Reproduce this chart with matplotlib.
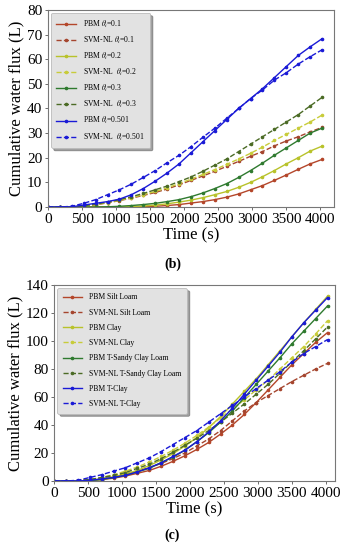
import matplotlib
matplotlib.use("Agg")
import matplotlib.pyplot as plt
import numpy as np

plt.rcParams['font.family'] = ['Liberation Serif', 'DejaVu Serif']
plt.rcParams['mathtext.fontset'] = 'stix'

t = [0, 175, 350, 525, 700, 875, 1050, 1225, 1400, 1575, 1750, 1925, 2100,
     2275, 2450, 2625, 2800, 2975, 3150, 3325, 3500, 3675, 3850, 4025]

# Panel (b)
pbm_01 = [0, 0, 0, 0, 0, 0, 0, 0, 0.1, 0.3, 0.6, 1.0, 1.6, 2.2, 3.0, 4.0, 5.3, 7.0, 8.7, 10.8, 13.0, 15.3, 17.5, 19.3]
svm_01 = [0, 0, 0, 0.3, 0.9, 1.7, 2.6, 3.6, 4.7, 5.9, 7.3, 9.0, 10.8, 12.6, 14.5, 16.5, 18.5, 20.6, 22.5, 24.8, 26.8, 28.5, 30.5, 32.3]
pbm_02 = [0, 0, 0, 0, 0, 0, 0.1, 0.2, 0.4, 0.8, 1.3, 2.0, 2.8, 3.8, 5.0, 6.3, 8.0, 10.0, 12.3, 14.8, 17.5, 20.0, 22.7, 24.7]
svm_02 = [0, 0, 0, 0.4, 1.0, 1.8, 2.7, 3.8, 5.0, 6.3, 7.8, 9.5, 11.3, 13.2, 15.2, 17.3, 19.5, 21.8, 24.3, 27.0, 29.5, 32.0, 34.5, 37.3]
pbm_03 = [0, 0, 0, 0, 0, 0.1, 0.3, 0.6, 1.0, 1.5, 2.2, 3.0, 4.2, 5.7, 7.5, 9.5, 12.0, 14.8, 17.8, 21.0, 24.0, 27.0, 30.0, 32.0]
svm_03 = [0, 0, 0, 0.5, 1.2, 2.0, 3.0, 4.2, 5.5, 7.0, 8.5, 10.3, 12.2, 14.5, 17.0, 19.5, 22.5, 25.5, 28.5, 31.5, 34.5, 37.5, 41.0, 44.5]
pbm_05 = [0, 0, 0.1, 0.8, 1.5, 2.2, 3.2, 5.0, 7.5, 10.5, 13.8, 17.5, 22.0, 26.5, 31.0, 35.5, 40.0, 44.0, 48.0, 52.5, 57.0, 61.5, 65.0, 68.3]
svm_05 = [0, 0, 0.3, 1.5, 3.0, 5.0, 7.0, 9.3, 12.0, 14.8, 18.0, 21.0, 24.5, 28.3, 32.0, 36.0, 40.0, 44.0, 47.5, 51.5, 54.5, 58.0, 61.0, 63.8]

# Panel (c)
pbm_sl = [0, 0, 0, 0.3, 1.0, 2.0, 3.5, 5.5, 7.5, 10.5, 14.0, 18.0, 22.5, 27.5, 33.5, 40.0, 47.5, 56.0, 65.0, 74.0, 83.0, 91.0, 99.0, 106.0]
svm_sl = [0, 0, 0.3, 1.0, 2.0, 3.5, 5.0, 7.0, 9.5, 12.5, 16.0, 20.0, 25.0, 30.0, 36.0, 43.0, 50.0, 56.0, 61.0, 66.0, 71.0, 75.5, 80.0, 84.0]
pbm_cl = [0, 0, 0, 0.5, 1.5, 3.0, 5.0, 7.5, 11.0, 15.0, 19.5, 25.0, 31.0, 38.0, 46.0, 55.0, 64.0, 73.0, 83.0, 93.0, 103.0, 113.0, 122.5, 132.0]
svm_cl = [0, 0, 0.3, 1.0, 2.5, 4.5, 7.0, 10.0, 13.5, 17.5, 22.0, 27.0, 32.5, 38.5, 45.0, 51.5, 58.0, 65.0, 72.0, 80.0, 88.0, 96.0, 105.0, 114.5]
pbm_tscl = [0, 0, 0, 0.3, 1.0, 2.5, 4.0, 6.5, 9.0, 13.0, 17.0, 22.0, 28.0, 34.5, 42.0, 50.0, 59.5, 69.0, 78.5, 88.0, 98.0, 107.0, 116.0, 125.0]
svm_tscl = [0, 0, 0.3, 1.0, 2.5, 4.0, 6.0, 9.0, 12.0, 16.0, 20.5, 25.5, 30.5, 36.0, 42.0, 48.5, 55.0, 62.0, 69.0, 77.0, 85.0, 93.0, 101.5, 110.0]
pbm_tc = [0, 0, 0, 0.5, 1.5, 2.5, 4.0, 6.5, 9.5, 13.0, 17.5, 22.0, 28.0, 35.0, 43.0, 52.0, 62.0, 72.0, 82.0, 92.0, 103.0, 113.0, 122.0, 131.0]
svm_tc = [0, 0, 0.5, 2.5, 4.5, 7.0, 9.5, 13.0, 16.5, 21.0, 26.0, 31.0, 36.0, 42.0, 48.0, 54.0, 60.0, 66.0, 72.0, 78.0, 85.0, 91.0, 96.0, 101.0]

labels_b = [r'PBM $\theta_i$=0.1', r'SVM-NL $\theta_i$=0.1', r'PBM $\theta_i$=0.2', r'SVM-NL  $\theta_i$=0.2',
            r'PBM $\theta_i$=0.3', r'SVM-NL  $\theta_i$=0.3', r'PBM $\theta_i$=0.501', r'SVM-NL  $\theta_i$=0.501']
labels_c = ['PBM Silt Loam', 'SVM-NL Silt Loam', 'PBM Clay', 'SVM-NL Clay',
            'PBM T-Sandy Clay Loam', 'SVM-NL T-Sandy Clay Loam', 'PBM T-Clay', 'SVM-NL T-Clay']

c_brown = '#b4462a'
c_yellow = '#b8c22a'
c_green = '#2f7a2f'
c_dgreen = '#4b6b25'
c_blue = '#1a1ad6'
c_yellow2 = '#c8cc3a'
colors = [c_brown, '#a5452e', c_yellow, c_yellow2, c_green, c_dgreen, c_blue, c_blue]
styles = ['-', '--'] * 4

fig = plt.figure(figsize=(3.45, 5.5), dpi=100)
ax1 = fig.add_axes([0.139, 0.6236, 0.829, 0.3584])
ax2 = fig.add_axes([0.157, 0.1255, 0.814, 0.3564])

def draw(ax, series, labels, ylim, yticks, xlim, leg_fs, lspace):
    for y, lab, col, ls in zip(series, labels, colors, styles):
        ax.plot(t, y, ls, color=col, lw=1.0, marker='o', ms=1.6, label=lab)
    ax.set_xlim(*xlim)
    ax.set_ylim(*ylim)
    ax.set_yticks(yticks)
    ax.set_xticks([0, 500, 1000, 1500, 2000, 2500, 3000, 3500, 4000])
    ax.tick_params(labelsize=11, length=2.5, width=0.6, color='#555555', pad=1.5)
    for s in ax.spines.values():
        s.set_color('#777777')
        s.set_linewidth(0.8)
    ax.set_xlabel('Time (s)', fontsize=12, labelpad=1)
    ax.set_ylabel('Cumulative water flux (L)', fontsize=12, labelpad=2)
    leg = ax.legend(loc='upper left', fontsize=leg_fs, frameon=True, shadow=True,
                    facecolor='#e2e2e2', edgecolor='#bbbbbb', framealpha=1,
                    handlelength=2.6, labelspacing=lspace, borderpad=0.7,
                    borderaxespad=0.4, handletextpad=0.9)
    leg.get_frame().set_linewidth(0.6)

draw(ax1, [pbm_01, svm_01, pbm_02, svm_02, pbm_03, svm_03, pbm_05, svm_05],
     labels_b, (0, 80), range(0, 81, 10), (0, 4200), 5.5, 0.65)
draw(ax2, [pbm_sl, svm_sl, pbm_cl, svm_cl, pbm_tscl, svm_tscl, pbm_tc, svm_tc],
     labels_c, (0, 140), range(0, 141, 20), (0, 4135), 5.5, 0.95)

fig.text(0.5, 1 - 264 / 550, '(b)', ha='center', va='center', fontsize=10, fontweight='bold')
fig.text(0.5, 1 - 535 / 550, '(c)', ha='center', va='center', fontsize=10, fontweight='bold')

fig.savefig('out.png', dpi=100)
